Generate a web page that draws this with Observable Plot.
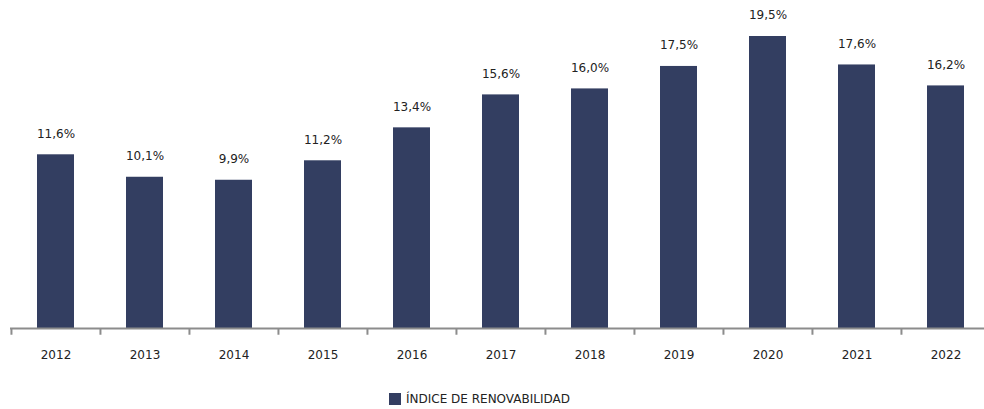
<!DOCTYPE html>
<html>
<head>
<meta charset="utf-8">
<script src="https://cdn.jsdelivr.net/npm/d3@7"></script>
<script src="https://cdn.jsdelivr.net/npm/@observablehq/plot@0.6"></script>
<style>
  body { margin: 0; background: #fff; font-family: "DejaVu Sans", sans-serif; }
  #chart svg { display: block; }
  .legend { position: relative; height: 19px; font-size: 12px; color: #222; }
  .legend .item { position: absolute; left: 389px; top: 2px; display: flex; align-items: center; }
  .legend .sw { width: 12px; height: 12px; background: #333e61; margin-right: 5px; }
</style>
</head>
<body>
<div id="chart"></div>
<div class="legend"><div class="item"><span class="sw"></span><span id="legtext"></span></div></div>
<script>
const years = ["2012","2013","2014","2015","2016","2017","2018","2019","2020","2021","2022"];
const values = [11.6, 10.1, 9.9, 11.2, 13.4, 15.6, 16.0, 17.5, 19.5, 17.6, 16.2];
const seriesName = "ÍNDICE DE RENOVABILIDAD";

const data = years.map((y, i) => ({year: y, value: values[i]}));
const fmt = v => v.toFixed(1).replace(".", ",") + "%";
const color = "#333e61";
const step = 89.1;

const chart = Plot.plot({
  width: 984,
  height: 390,
  marginLeft: 10,
  marginRight: 0,
  marginTop: 0,
  marginBottom: 62,
  style: {fontFamily: "DejaVu Sans, sans-serif", fontSize: "12px", color: "#222"},
  x: {domain: years, range: [10.5, 10.5 + step * years.length], paddingInner: 0.585, paddingOuter: 0.2925, axis: null},
  y: {domain: [0, 19.5], range: [328, 36], axis: null},
  marks: [
    Plot.barY(data, {x: "year", y: "value", fill: color}),
    Plot.ruleY([0], {stroke: "#8c8c8c", strokeWidth: 2}),
    Plot.ruleX(data, {x: "year", dx: -step / 2, y1: 0, y2: -0.45, stroke: "#8c8c8c", strokeWidth: 2}),
    Plot.text(data, {x: "year", y: "value", text: d => fmt(d.value), dy: -21, fill: "#222", fontSize: 12}),
    Plot.text(data, {x: "year", y: 0, text: "year", dy: 27, fill: "#222", fontSize: 12})
  ]
});
document.getElementById("chart").appendChild(chart);
document.getElementById("legtext").textContent = seriesName;
</script>
</body>
</html>
